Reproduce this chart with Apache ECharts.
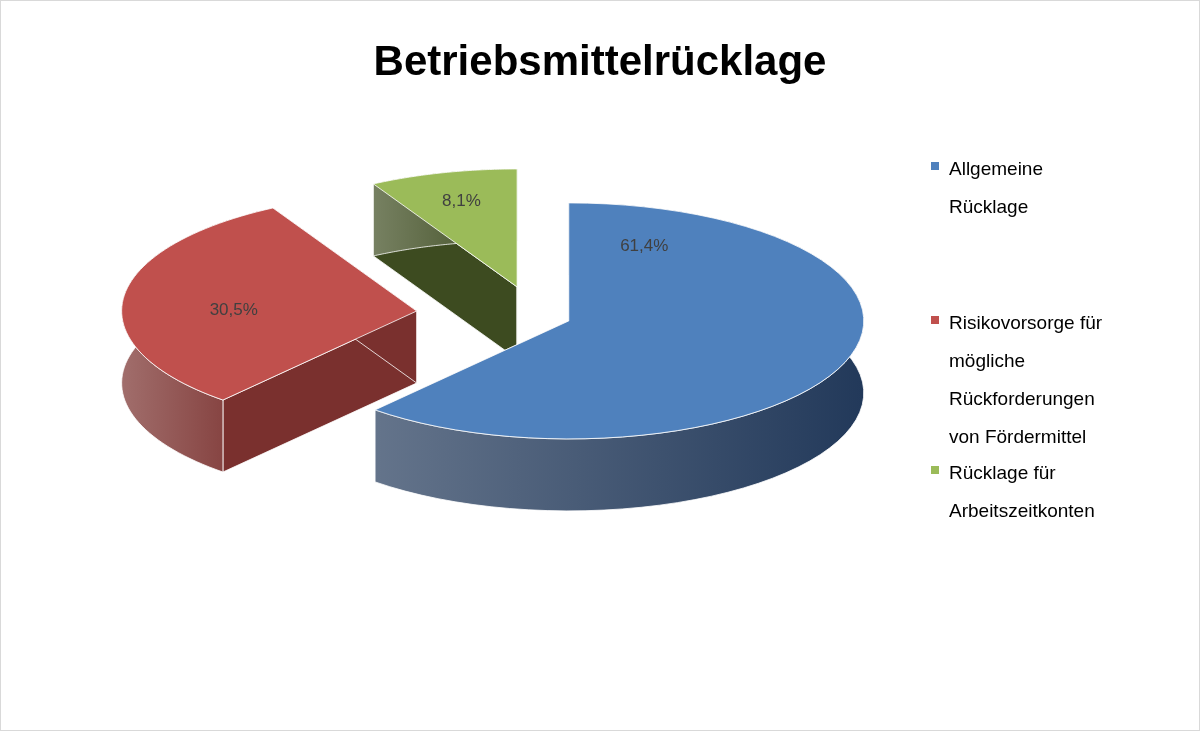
<!DOCTYPE html>
<html><head><meta charset="utf-8">
<script src="https://cdn.jsdelivr.net/npm/echarts@6/dist/echarts.min.js"></script>
<style>html,body{margin:0;background:#fff}#c{width:1200px;height:731px;box-sizing:border-box;border:1px solid #d9d9d9}</style>
</head><body><div id="c"></div>
<script>
const categories = ['Allgemeine\nRücklage', 'Risikovorsorge für\nmögliche\nRückforderungen\nvon Fördermittel', 'Rücklage für\nArbeitszeitkonten'];
const values = [61.4, 30.5, 8.1];
const labels = ['61,4%', '30,5%', '8,1%'];
const topColors = ['#4F81BD', '#C0504D', '#9BBB59'];
const sideColors = ['#22395a', '#7a302e', '#3d4b20'];
const explode = [35, 120, 75];
const labelPos = [[0.68, 0.1], [0.62, 0.45], [0.75, 0.5]];

const CX = 535, CY = 315, RX = 295, RY = 118, DEPTH = 72;
const total = values.reduce((a, b) => a + b, 0);
const starts = []; let acc = 0;
values.forEach(v => { starts.push(acc / total * 360); acc += v; });

function pt(cx, cy, deg, r) { const a = deg * Math.PI / 180; return [cx + Math.sin(a) * RX * r, cy - Math.cos(a) * RY * r]; }

function renderItem(params, api) {
  const i = api.value(1);
  const a0 = starts[i], a1 = a0 + api.value(0) / total * 360, mid = (a0 + a1) / 2;
  const m = mid * Math.PI / 180;
  const cx = CX + Math.sin(m) * explode[i], cy = CY - Math.cos(m) * explode[i] * RY / RX;
  const arc = []; const n = 60;
  for (let k = 0; k <= n; k++) arc.push(pt(cx, cy, a0 + (a1 - a0) * k / n, 1));
  const down = p => [p[0], p[1] + DEPTH];
  const side = arc.concat(arc.slice().reverse().map(down));
  const c = [cx, cy], e0 = arc[0], e1 = arc[n];
  const stroke = {stroke: '#ffffff', lineWidth: 0.8};
  const children = [
    {type: 'polygon', shape: {points: [c, e0, down(e0), down(c)]}, style: Object.assign({fill: sideColors[i]}, stroke)},
    {type: 'polygon', shape: {points: [c, e1, down(e1), down(c)]}, style: Object.assign({fill: sideColors[i]}, stroke)},
    {type: 'polygon', shape: {points: side}, style: Object.assign({fill: new echarts.graphic.LinearGradient(0, 0, 1, 0, [{offset: 0, color: echarts.color.lift(sideColors[i], 0.3)}, {offset: 1, color: sideColors[i]}])}, stroke)},
    {type: 'polygon', shape: {points: [c].concat(arc)}, style: Object.assign({fill: topColors[i]}, stroke)}
  ];
  const lp = pt(cx, cy, a0 + (a1 - a0) * labelPos[i][1], labelPos[i][0]);
  children.push({type: 'text', style: {x: lp[0], y: lp[1], text: labels[i], fill: '#404040', font: '17px "Liberation Sans"', align: 'center', verticalAlign: 'middle'}});
  return {type: 'group', children};
}

const order = [2, 1, 0];
const legendY = [158, 312, 462];
const graphic = [];
categories.forEach((name, i) => {
  graphic.push({type: 'rect', left: 930, top: legendY[i] + 3, shape: {width: 8, height: 8}, style: {fill: topColors[i]}});
  graphic.push({type: 'text', left: 948, top: legendY[i] - 8, style: {text: name, fill: '#000', font: '19px "Liberation Sans"', lineHeight: 38}});
});

const chart = echarts.init(document.getElementById('c'));
chart.setOption({
  animation: false,
  title: {text: 'Betriebsmittelrücklage', left: 'center', top: 36, textStyle: {fontSize: 42, fontWeight: 'bold', color: '#000', fontFamily: '"Liberation Sans"'}},
  graphic,
  series: [{type: 'custom', coordinateSystem: 'none', renderItem,
    data: order.map(i => ({value: [values[i], i], name: categories[i]}))}]
});
</script></body></html>
